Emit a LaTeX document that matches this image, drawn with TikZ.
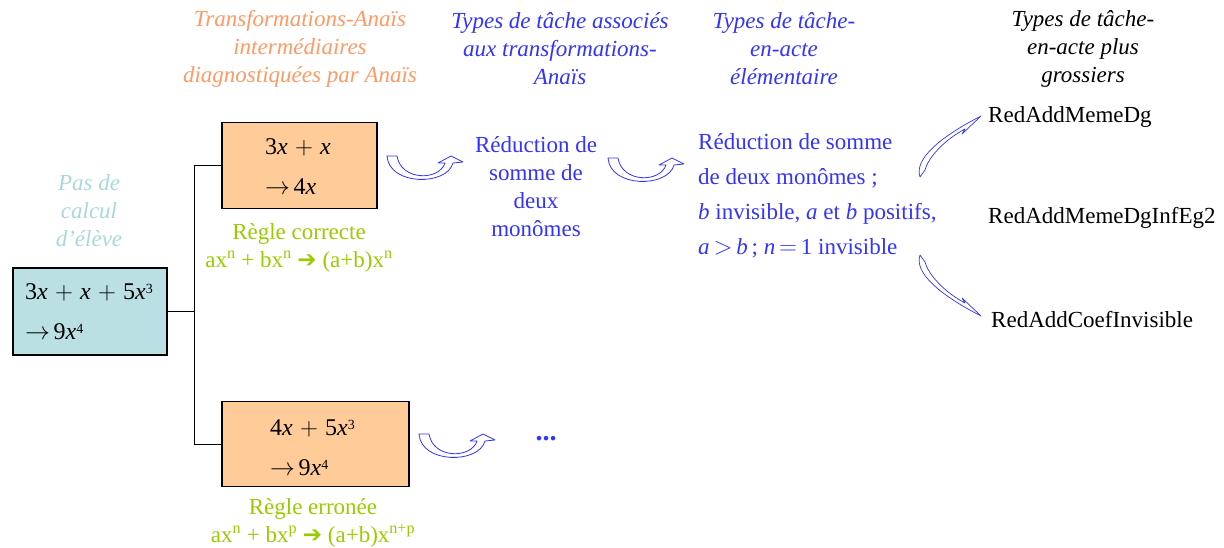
\documentclass[tikz,border=0pt]{standalone}
\usepackage{fontspec}
\setmainfont{Liberation Serif}
\newfontfamily\dejavu{DejaVu Sans}
\definecolor{tblue}{RGB}{51,51,255}
\definecolor{tcyan}{RGB}{168,216,222}
\definecolor{torange}{RGB}{255,153,102}
\definecolor{tgreen}{RGB}{153,204,0}
\definecolor{boxblue}{RGB}{187,224,227}
\definecolor{boxorange}{RGB}{255,204,153}
\newcommand{\vx}{\textit{x}}
\newcommand{\sq}[1]{\textsuperscript{#1}}
\newcommand{\msq}[1]{\raisebox{0.55ex}{\fontsize{14}{14}\selectfont #1}}
\newcommand{\pl}{\hspace{0.3em}$+$\hspace{0.3em}}
\newcommand{\ra}{$\rightarrow$\hspace{0.15em}}
\newcommand{\harr}{{\dejavu\char"2794}}
\tikzset{
  box/.style={draw=black, line width=1.2pt, inner sep=0pt},
  hdr/.style={font=\fontsize{23}{28}\selectfont\itshape, align=center, inner sep=0pt},
  body/.style={font=\fontsize{23}{28}\selectfont, align=center, inner sep=0pt},
  mathtxt/.style={font=\fontsize{24}{40}\selectfont, align=left, inner sep=0pt, anchor=west},
  label/.style={font=\fontsize{23}{28}\selectfont, inner sep=0pt, anchor=west},
  link/.style={draw=black, line width=1pt},
  uarrow/.pic={\draw[tblue, line width=0.8pt, fill=white, line join=round]
     (0,0) .. controls (2,30) and (60,30) .. (66,7) -- (76,6) -- (64,0) -- (51,7) -- (58,7)
     .. controls (52,25) and (14,25) .. (10,0) -- cycle;}
}
\begin{document}
\begin{tikzpicture}[x=1pt,y=-1pt]
\useasboundingbox (0,0) rectangle (1224,548);

% headings
\node[hdr, text=torange] (h1) at (300,49) {Transformations-Anaïs\\intermédiaires\\diagnostiquées par Anaïs};
\node[hdr, text=tblue] (h2) at (560,49) {Types de tâche associés\\aux transformations-\\Anaïs};
\node[hdr, text=tblue] (h3) at (784,49) {Types de tâche-\\en-acte\\élémentaire};
\node[hdr, text=black] (h4) at (1083,49) {Types de tâche-\\en-acte plus\\grossiers};
\node[hdr, text=tcyan] (h0) at (89,211) {Pas de\\calcul\\d’élève};

% boxes
\node[box, fill=boxblue, minimum width=154pt, minimum height=87pt] (bleu) at (90,311.5) {};
\node[mathtxt] (bleutxt) at (25,312) {3\vx\pl\vx\pl5\vx\msq{3}\\\ra9\vx\msq{4}};
\node[box, fill=boxorange, minimum width=155pt, minimum height=86pt] (t1) at (299.5,165.5) {};
\node[mathtxt] (t1txt) at (265,167) {3\vx\pl\vx\\\ra4\vx};
\node[box, fill=boxorange, minimum width=187pt, minimum height=85pt] (t2) at (315.5,444) {};
\node[mathtxt] (t2txt) at (270,448) {4\vx\pl5\vx\msq{3}\\\ra9\vx\msq{4}};

% connectors
\coordinate (trunk) at (194,311.5);
\draw[link] (bleu.east) -- (trunk) |- (t1.west);
\draw[link] (trunk) |- (t2.west);

% rules
\node[body, text=tgreen] (r1) at (299,248) {Règle correcte\\ax\sq{n} + bx\sq{n} \harr\ (a+b)x\sq{n}};
\node[body, text=tgreen] (r2) at (313,523) {Règle erronée\\ax\sq{n} + bx\sq{p} \harr\ (a+b)x\sq{n+p}};

% curved arrows
\pic at (387,156) {uarrow};
\pic at (608,158) {uarrow};
\pic at (419,434) {uarrow};

% task types
\node[body, text=tblue] (red1) at (536,187) {Réduction de\\somme de\\deux\\monômes};
\node[font=\fontsize{23}{35}\selectfont, align=left, inner sep=0pt, anchor=west, text=tblue] (red2) at (698,196)
  {Réduction de somme\\de deux monômes ;\\\textit{b} invisible, \textit{a} et \textit{b} positifs,\\\textit{a}\,$>$\,\textit{b}\,; \textit{n}\,$=$\,1 invisible};
\node[font=\fontsize{28}{28}\selectfont\bfseries, inner sep=0pt, text=tblue] (dots) at (546,439) {...};

% coarse types
\node[label] (g1) at (988,117) {RedAddMemeDg};
\node[label] (g2) at (988,218) {RedAddMemeDgInfEg2};
\node[label] (g3) at (991,320) {RedAddCoefInvisible};

% thin arrows
\draw[tblue, line width=0.7pt, fill=white, line join=round]
  (920,177) .. controls (914,160) and (938,138) .. (981,116) -- (962,134) -- (965,129)
  .. controls (944,140) and (928,158) .. (925,170) -- cycle;
\draw[tblue, line width=0.7pt, fill=white, line join=round]
  (920,255) .. controls (914,272) and (938,294) .. (981,316) -- (962,298) -- (965,303)
  .. controls (944,292) and (928,274) .. (925,262) -- cycle;
\end{tikzpicture}
\end{document}
